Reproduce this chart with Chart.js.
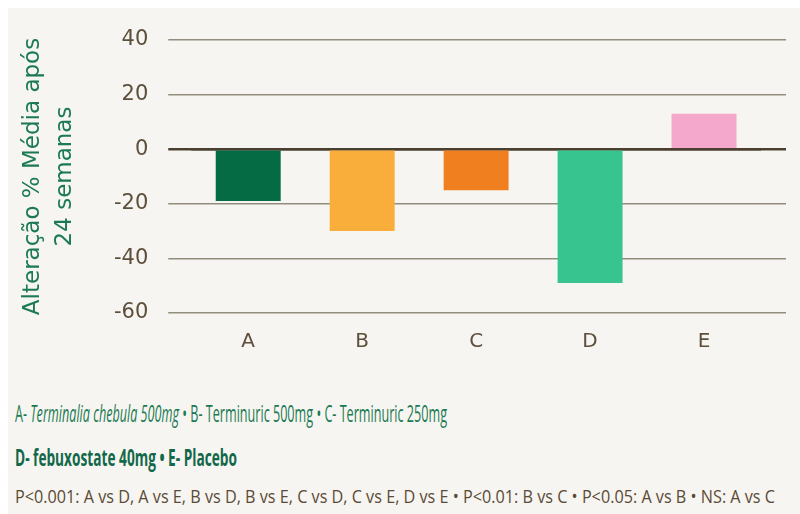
<!DOCTYPE html>
<html>
<head>
<meta charset="utf-8">
<script src="https://cdn.jsdelivr.net/npm/chart.js@4/dist/chart.umd.min.js"></script>
<style>
  html, body { margin: 0; padding: 0; background: #ffffff; }
  #panel {
    position: absolute; left: 8px; top: 8px; width: 792px; height: 506px;
    background: #f7f5f1; overflow: hidden;
  }
  #chartBox { position: absolute; left: -8px; top: -8px; width: 800px; height: 372px; }
  .note { position: absolute; left: 7px; white-space: nowrap; transform-origin: 0 50%; line-height: 26px; }
  #line1 { top: 392px; font-size: 23px; font-family: "Open Sans", sans-serif; color: #1b7a52; }
  #line2 { top: 436px; font-size: 23px; font-weight: bold; font-family: "Open Sans", sans-serif; color: #12684a; }
  #line3 { top: 475px; font-size: 18px; font-family: "Open Sans", sans-serif; color: #5a4a36; }
</style>
</head>
<body>
<div id="panel">
  <div id="chartBox"><canvas id="chart" width="800" height="372"></canvas></div>
  <div class="note" id="line1" data-w="432">A- <i>Terminalia chebula 500mg</i> • B- Terminuric 500mg • C- Terminuric 250mg</div>
  <div class="note" id="line2" data-w="222">D- febuxostate 40mg • E- Placebo</div>
  <div class="note" id="line3" data-w="760">P&lt;0.001: A vs D, A vs E, B vs D, B vs E, C vs D, C vs E, D vs E • P&lt;0.01: B vs C • P&lt;0.05: A vs B • NS: A vs C</div>
</div>
<script>
// Categories and values
const groups = ['A', 'B', 'C', 'D', 'E'];
const meanChange = [-19, -30, -15, -49, 13];
const barColors = ['#056b45', '#f9ad3b', '#f07f1f', '#38c48e', '#f3a8cc'];
const yTitle = ['Alteração % Média após', '24 semanas'];
const yMin = -60, yMax = 40, yStep = 20;

const gridGray = '#928d7d';
const zeroDark = '#4b4030';
const tickText = '#5d4f3c';

// bring the footer lines to the same width as in the picture
document.querySelectorAll('.note').forEach(el => {
  const target = +el.dataset.w;
  const w = el.getBoundingClientRect().width;
  el.style.transform = 'scaleX(' + (target / w) + ')';
});

new Chart(document.getElementById('chart'), {
  type: 'bar',
  data: {
    labels: groups,
    datasets: [{
      data: meanChange,
      backgroundColor: barColors,
      borderWidth: 0,
      barPercentage: 0.57,
      categoryPercentage: 1
    }]
  },
  options: {
    responsive: false,
    animation: false,
    events: [],
    layout: { padding: { left: 10, right: 14, top: 40, bottom: 1 } },
    plugins: { legend: { display: false }, tooltip: { enabled: false } },
    scales: {
      x: {
        grid: { display: false, drawTicks: false },
        border: { display: false },
        ticks: { color: tickText, font: { family: 'DejaVu Sans', size: 20 }, padding: 17 }
      },
      y: {
        min: yMin, max: yMax,
        grid: {
          color: c => c.tick && c.tick.value === 0 ? zeroDark : gridGray,
          lineWidth: c => c.tick && c.tick.value === 0 ? 2.5 : 1.5,
          tickLength: 23
        },
        border: { display: false },
        ticks: {
          stepSize: yStep,
          color: tickText,
          padding: 20,
          font: { family: 'DejaVu Sans', size: 21 }
        },
        title: {
          display: true,
          text: yTitle,
          color: '#1b7a52',
          font: { family: 'DejaVu Sans', size: 23, lineHeight: 1.39 },
          padding: { top: 7, bottom: 13 }
        }
      },
      y2: {
        display: true,
        position: 'right',
        min: yMin, max: yMax,
        z: 1,
        grid: {
          drawOnChartArea: true,
          color: c => c.tick && c.tick.value === 0 ? zeroDark : 'rgba(0,0,0,0)',
          tickColor: c => c.tick && c.tick.value === 0 ? zeroDark : gridGray,
          lineWidth: c => c.tick && c.tick.value === 0 ? 2.5 : 1.5,
          tickLength: 25
        },
        border: { display: false },
        ticks: { stepSize: yStep, display: false }
      }
    }
  }
});
</script>
</body>
</html>
